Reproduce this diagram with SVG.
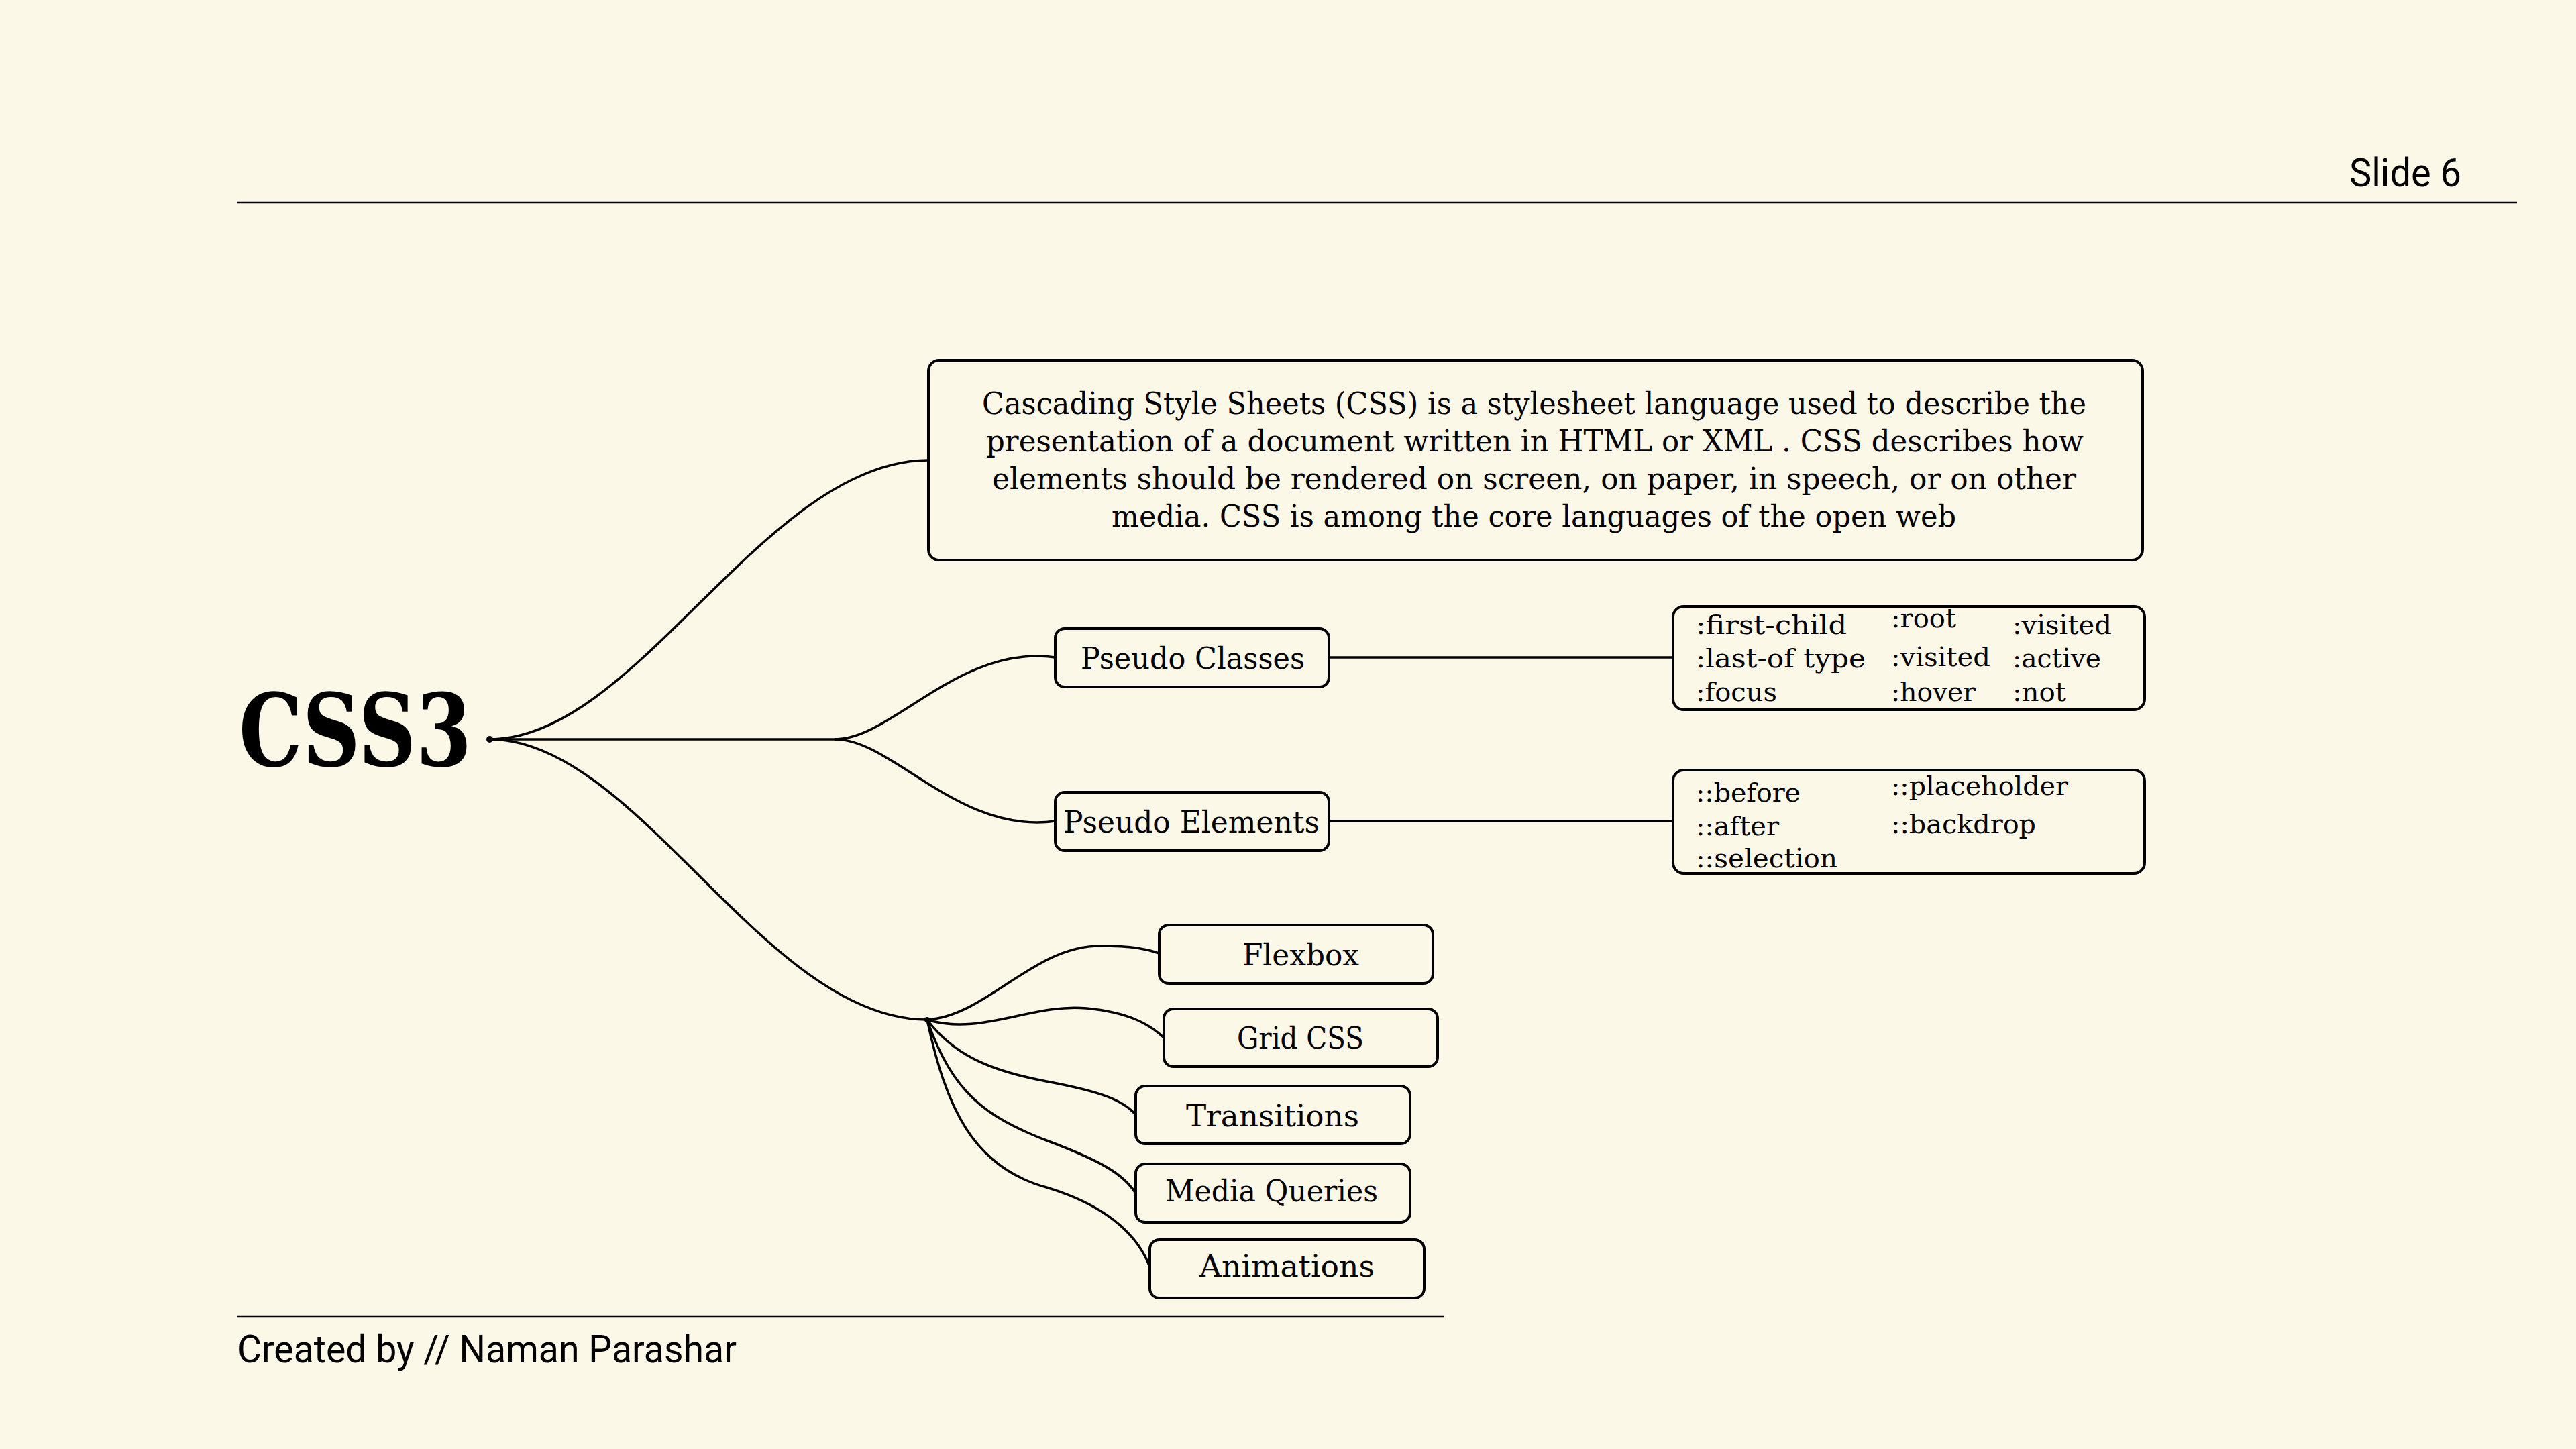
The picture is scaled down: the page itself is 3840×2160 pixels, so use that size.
<svg xmlns="http://www.w3.org/2000/svg" width="3840" height="2160" viewBox="0 0 3840 2160">
<style>
.bg{fill:#FCF8E8}
.box{fill:#FCF8E8;stroke:#000;stroke-width:4}
.conn{fill:none;stroke:#000;stroke-width:3.5;stroke-linecap:round}
.rule{stroke:#000;stroke-width:2.5}
.t{font-family:"DejaVu Serif","Liberation Serif",serif;fill:#000}
.d{font-size:44px}
.n{font-size:44px}
.l{font-size:40px}
.r{font-family:Roboto,"Liberation Sans",sans-serif;fill:#000}
</style>
<rect class="bg" x="0" y="0" width="3840" height="2160"/>
<g id="header">
<line class="rule" x1="354" y1="302" x2="3752" y2="302"/>
<text class="r" x="3502" y="278" font-size="60" textLength="167" lengthAdjust="spacingAndGlyphs">Slide 6</text>
</g>
<g id="footer">
<line class="rule" x1="354" y1="1962" x2="2153" y2="1962"/>
<text class="r" x="354" y="2031" font-size="58" textLength="744" lengthAdjust="spacingAndGlyphs">Created by // Naman Parashar</text>
</g>
<g id="connectors">
<path class="conn" d="M730,1102 C950,1102 1140,686 1384,686"/>
<path class="conn" d="M730,1102 L1245,1102"/>
<path class="conn" d="M1245,1102 C1330,1102 1430,960 1573,980"/>
<path class="conn" d="M1245,1102 C1330,1102 1430,1244 1573,1224"/>
<path class="conn" d="M730,1102 C950,1102 1140,1520 1382,1520"/>
<path class="conn" d="M1981,980 L2494,980"/>
<path class="conn" d="M1981,1224 L2494,1224"/>
<path class="conn" d="M1382,1520 C1470,1515 1540,1410 1640,1410 C1690,1410 1710,1415 1728,1421"/>
<path class="conn" d="M1382,1520 C1460,1545 1540,1495 1620,1503 C1680,1509 1712,1525 1735,1547"/>
<path class="conn" d="M1382,1520 C1420,1570 1470,1595 1560,1612 C1640,1627 1675,1640 1693,1662"/>
<path class="conn" d="M1382,1520 C1420,1630 1470,1665 1560,1700 C1640,1730 1675,1750 1693,1779"/>
<path class="conn" d="M1382,1520 C1410,1650 1450,1740 1560,1770 C1660,1800 1700,1850 1714,1889"/>
<circle cx="730" cy="1102" r="5" fill="#000"/>
<circle cx="1382" cy="1520" r="4" fill="#000"/>
</g>
<g id="root">
<text class="t" x="356" y="1142" font-size="150" font-weight="bold" textLength="347" lengthAdjust="spacingAndGlyphs">CSS3</text>
</g>
<g id="description">
<rect class="box" x="1384" y="537" width="1810" height="298" rx="16"/>
<text class="t d" x="1464" y="617" textLength="1646" lengthAdjust="spacingAndGlyphs">Cascading Style Sheets (CSS) is a stylesheet language used to describe the</text>
<text class="t d" x="1470" y="673" textLength="1636" lengthAdjust="spacingAndGlyphs">presentation of a document written in HTML or XML . CSS describes how</text>
<text class="t d" x="1479" y="729" textLength="1616" lengthAdjust="spacingAndGlyphs">elements should be rendered on screen, on paper, in speech, or on other</text>
<text class="t d" x="1657" y="785" textLength="1259" lengthAdjust="spacingAndGlyphs">media. CSS is among the core languages of the open web</text>
</g>
<g id="pseudo-classes">
<rect class="box" x="1573" y="937" width="408" height="87" rx="14"/>
<text class="t n" x="1611" y="997" textLength="334" lengthAdjust="spacingAndGlyphs">Pseudo Classes</text>
</g>
<g id="pseudo-elements">
<rect class="box" x="1573" y="1181" width="408" height="87" rx="14"/>
<text class="t n" x="1585" y="1241" textLength="382" lengthAdjust="spacingAndGlyphs">Pseudo Elements</text>
</g>
<g id="pseudo-class-list">
<rect class="box" x="2494" y="904" width="703" height="154" rx="16"/>
<text class="t l" x="2528" y="945" textLength="225" lengthAdjust="spacingAndGlyphs">:first-child</text>
<text class="t l" x="2528" y="995" textLength="253" lengthAdjust="spacingAndGlyphs">:last-of type</text>
<text class="t l" x="2528" y="1045" textLength="121" lengthAdjust="spacingAndGlyphs">:focus</text>
<text class="t l" x="2819" y="935" textLength="97" lengthAdjust="spacingAndGlyphs">:root</text>
<text class="t l" x="2819" y="993" textLength="148" lengthAdjust="spacingAndGlyphs">:visited</text>
<text class="t l" x="2819" y="1045" textLength="126" lengthAdjust="spacingAndGlyphs">:hover</text>
<text class="t l" x="3000" y="945" textLength="148" lengthAdjust="spacingAndGlyphs">:visited</text>
<text class="t l" x="3000" y="995" textLength="132" lengthAdjust="spacingAndGlyphs">:active</text>
<text class="t l" x="3000" y="1045" textLength="80" lengthAdjust="spacingAndGlyphs">:not</text>
</g>
<g id="pseudo-element-list">
<rect class="box" x="2494" y="1148" width="703" height="154" rx="16"/>
<text class="t l" x="2528" y="1195" textLength="156" lengthAdjust="spacingAndGlyphs">::before</text>
<text class="t l" x="2528" y="1245" textLength="124" lengthAdjust="spacingAndGlyphs">::after</text>
<text class="t l" x="2528" y="1293" textLength="211" lengthAdjust="spacingAndGlyphs">::selection</text>
<text class="t l" x="2819" y="1185" textLength="264" lengthAdjust="spacingAndGlyphs">::placeholder</text>
<text class="t l" x="2819" y="1242" textLength="216" lengthAdjust="spacingAndGlyphs">::backdrop</text>
</g>
<g id="flexbox">
<rect class="box" x="1728" y="1379" width="408" height="87" rx="14"/>
<text class="t n" x="1852" y="1439" textLength="174" lengthAdjust="spacingAndGlyphs">Flexbox</text>
</g>
<g id="grid-css">
<rect class="box" x="1735" y="1504" width="408" height="86" rx="14"/>
<text class="t n" x="1844" y="1563" textLength="189" lengthAdjust="spacingAndGlyphs">Grid CSS</text>
</g>
<g id="transitions">
<rect class="box" x="1693" y="1619" width="409" height="86" rx="14"/>
<text class="t n" x="1768" y="1679" textLength="258" lengthAdjust="spacingAndGlyphs">Transitions</text>
</g>
<g id="media-queries">
<rect class="box" x="1693" y="1735" width="409" height="87" rx="14"/>
<text class="t n" x="1737" y="1791" textLength="317" lengthAdjust="spacingAndGlyphs">Media Queries</text>
</g>
<g id="animations">
<rect class="box" x="1714" y="1848" width="409" height="87" rx="14"/>
<text class="t n" x="1788" y="1903" textLength="261" lengthAdjust="spacingAndGlyphs">Animations</text>
</g>
</svg>
